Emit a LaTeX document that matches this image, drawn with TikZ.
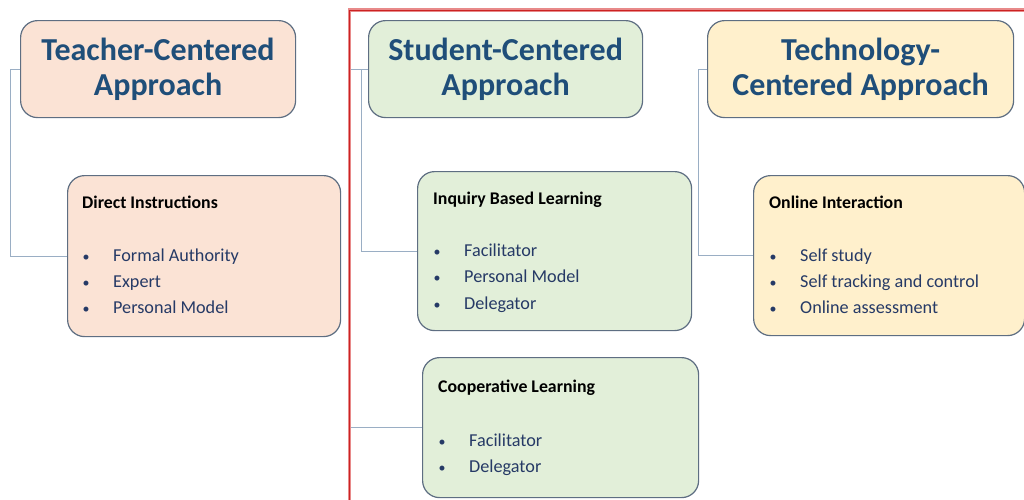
\documentclass[tikz,border=0pt]{standalone}
\usepackage{fontspec}
\setmainfont{Carlito}
\definecolor{hdtext}{HTML}{1F4E79}
\definecolor{itemtext}{HTML}{263A66}
\definecolor{boxline}{HTML}{5E6E82}
\definecolor{peach}{HTML}{FBE3D5}
\definecolor{mint}{HTML}{E2EFD9}
\definecolor{cream}{HTML}{FFF0CC}
\definecolor{connline}{HTML}{9AAEC4}
\definecolor{redlight}{HTML}{E88A8A}
\definecolor{reddark}{HTML}{CC2222}
\tikzset{
  box/.style={draw=boxline, line width=1.2pt, rounded corners=17pt, anchor=north west, inner sep=0pt},
  header/.style={font=\fontsize{32}{35}\selectfont\bfseries, text=hdtext, align=center},
  ttl/.style={font=\fontsize{17.8}{20}\selectfont\bfseries, text=black, anchor=base west, inner sep=0pt},
  itm/.style={font=\fontsize{18.2}{21}\selectfont, text=itemtext, anchor=base west, inner sep=0pt},
  bul/.style={font=\fontsize{14}{16}\selectfont, text=itemtext, anchor=base, inner sep=0pt},
  conn/.style={draw=connline, line width=0.9pt}
}
\begin{document}
\begin{tikzpicture}[x=1pt,y=-1pt]
\useasboundingbox (0,0) rectangle (1024,499);
\fill[white] (0,0) rectangle (1024,499);

% boxes
\node[box, fill=peach, minimum width=275pt, minimum height=97pt] (th) at (20,20) {};
\node[box, fill=mint, minimum width=274pt, minimum height=97pt] (sh) at (368,20) {};
\node[box, fill=cream, minimum width=306pt, minimum height=97pt] (gh) at (707,20) {};
\node[box, fill=peach, minimum width=273pt, minimum height=161pt] (di) at (67,175) {};
\node[box, fill=mint, minimum width=274pt, minimum height=159pt] (ib) at (417,171) {};
\node[box, fill=cream, minimum width=271pt, minimum height=160pt] (oi) at (753,175) {};
\node[box, fill=mint, minimum width=276pt, minimum height=140pt] (cl) at (422,357) {};

% connectors
\draw[conn] (th.west) -- ++(-10,0) |- (di.west);
\draw[conn] (sh.west) -- ++(-7,0) |- (ib.west);
\draw[conn] (sh.west) -- ++(-19,0) |- (cl.west);
\draw[conn] (gh.west) -- ++(-9,0) |- (oi.west);

% red frame
\draw[redlight, line width=3.6pt] (349.5,10) rectangle (1040,520);
\draw[reddark, line width=1pt] (349.5,10) rectangle (1040,520);

% header texts
\node[header] (tht) at (th.center) {Teacher-Centered\\Approach};
\node[header] (sht) at (sh.center) {Student-Centered\\Approach};
\node[header] (ght) at (gh.center) {Technology-\\Centered Approach};

% Direct Instructions
\node[ttl] (dit) at ([shift={(15,33)}]di.north west) {Direct Instructions};
\node[bul] (dib1) at ([shift={(19,86)}]di.north west) {•};
\node[itm] (di1) at ([shift={(46,86)}]di.north west) {Formal Authority};
\node[bul] (dib2) at ([shift={(19,112)}]di.north west) {•};
\node[itm] (di2) at ([shift={(46,112)}]di.north west) {Expert};
\node[bul] (dib3) at ([shift={(19,138)}]di.north west) {•};
\node[itm] (di3) at ([shift={(46,138)}]di.north west) {Personal Model};

% Inquiry Based Learning
\node[ttl] (ibt) at ([shift={(16,33)}]ib.north west) {Inquiry Based Learning};
\node[bul] (ibb1) at ([shift={(20,85)}]ib.north west) {•};
\node[itm] (ib1) at ([shift={(47,85)}]ib.north west) {Facilitator};
\node[bul] (ibb2) at ([shift={(20,111)}]ib.north west) {•};
\node[itm] (ib2) at ([shift={(47,111)}]ib.north west) {Personal Model};
\node[bul] (ibb3) at ([shift={(20,138)}]ib.north west) {•};
\node[itm] (ib3) at ([shift={(47,138)}]ib.north west) {Delegator};

% Online Interaction
\node[ttl] (oit) at ([shift={(16,33)}]oi.north west) {Online Interaction};
\node[bul] (oib1) at ([shift={(20,86)}]oi.north west) {•};
\node[itm] (oi1) at ([shift={(47,86)}]oi.north west) {Self study};
\node[bul] (oib2) at ([shift={(20,112)}]oi.north west) {•};
\node[itm] (oi2) at ([shift={(47,112)}]oi.north west) {Self tracking and control};
\node[bul] (oib3) at ([shift={(20,138)}]oi.north west) {•};
\node[itm] (oi3) at ([shift={(47,138)}]oi.north west) {Online assessment};

% Cooperative Learning
\node[ttl] (clt) at ([shift={(16,35)}]cl.north west) {Cooperative Learning};
\node[bul] (clb1) at ([shift={(20,89)}]cl.north west) {•};
\node[itm] (cl1) at ([shift={(47,89)}]cl.north west) {Facilitator};
\node[bul] (clb2) at ([shift={(20,115)}]cl.north west) {•};
\node[itm] (cl2) at ([shift={(47,115)}]cl.north west) {Delegator};
\end{tikzpicture}
\end{document}
